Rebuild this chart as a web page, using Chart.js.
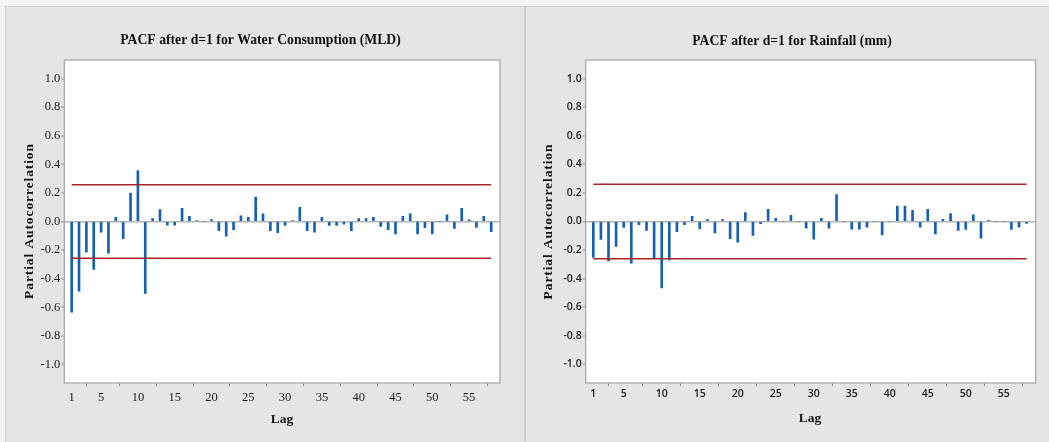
<!DOCTYPE html>
<html><head><meta charset="utf-8">
<script src="https://cdn.jsdelivr.net/npm/chart.js@4/dist/chart.umd.min.js"></script>
<style>
html,body{margin:0;padding:0;background:#f4f4f4;width:1049px;height:442px;overflow:hidden}
.panel{position:absolute;background:#e5e5e5;box-sizing:border-box;border:1px solid #cfcfcf}
canvas{position:absolute}
</style></head><body>
<div class="panel" style="left:5px;top:6px;width:520px;height:440px"></div>
<div class="panel" style="left:525px;top:6px;width:528px;height:440px"></div>
<canvas id="c1" width="518" height="435" style="left:6px;top:7px"></canvas>
<canvas id="c2" width="523" height="435" style="left:526px;top:7px"></canvas>
<script>
// ---- data ----
const lags = Array.from({length:58},(_,i)=>i+1);
const waterPACF = [
 -0.634,-0.487,-0.214,-0.336,-0.074,-0.221,0.030,-0.120,0.198,0.356,
 -0.503,0.021,0.083,-0.025,-0.025,0.092,0.037,0.006,0.000,0.014,
 -0.064,-0.103,-0.057,0.039,0.030,0.170,0.053,-0.064,-0.078,-0.028,
 0.007,0.099,-0.064,-0.074,0.030,-0.028,-0.028,-0.018,-0.064,0.021,
 0.021,0.030,-0.034,-0.057,-0.087,0.037,0.053,-0.087,-0.044,-0.087,
 0.000,0.046,-0.048,0.092,0.011,-0.041,0.037,-0.071
];
const rainPACF = [
 -0.251,-0.126,-0.276,-0.175,-0.041,-0.292,-0.023,-0.062,-0.260,-0.464,
 -0.269,-0.071,-0.023,0.037,-0.051,0.014,-0.080,0.014,-0.120,-0.145,
 0.062,-0.097,-0.016,0.085,0.023,0.000,0.044,0.000,-0.046,-0.124,
 0.023,-0.046,0.189,0.000,-0.053,-0.053,-0.039,0.000,-0.094,0.000,
 0.108,0.108,0.078,-0.039,0.085,-0.087,0.016,0.055,-0.062,-0.055,
 0.046,-0.117,0.009,0.000,0.000,-0.055,-0.039,-0.014
];
const waterLimit = 0.257;
const rainLimit = 0.26;
const xTickValues = [1,5,10,15,20,25,30,35,40,45,50,55];
const yTickValues = [-1.0,-0.8,-0.6,-0.4,-0.2,0.0,0.2,0.4,0.6,0.8,1.0];
const titles = ["PACF after d=1 for Water Consumption (MLD)","PACF after d=1 for Rainfall (mm)"];
const yTitle = "Partial Autocorrelation";
const xTitle = "Lag";

function makeChart(id, vals, lim, o){
  const textPlugin = {
    id:'txt',
    beforeDraw(chart){
      const ca = chart.chartArea, c = chart.ctx;
      c.save(); c.fillStyle='#fff'; c.fillRect(ca.left,ca.top,ca.right-ca.left,ca.bottom-ca.top); c.restore();
    },
    beforeDatasetsDraw(chart){
      const ca = chart.chartArea, c = chart.ctx;
      c.save(); c.strokeStyle='#a3a3a3'; c.lineWidth=1.2;
      c.strokeRect(ca.left,ca.top,ca.right-ca.left,ca.bottom-ca.top); c.restore();
    },
    afterDraw(chart){
      const c = chart.ctx;
      c.save();
      c.fillStyle='#111'; c.textAlign='center'; c.textBaseline='middle';
      c.font='bold 13.7px "Liberation Serif"';
      c.fillText(o.title, o.tx, o.ty);
      c.font='bold 13.5px "Liberation Serif"';
      c.fillText(xTitle, o.lx, o.ly);
      c.translate(o.yx, o.yy); c.rotate(-Math.PI/2);
      c.font='bold 13.5px "Liberation Serif"';
      try{ c.letterSpacing='0.9px'; }catch(e){}
      c.fillText(yTitle, 0, 0);
      c.restore();
    }
  };
  return new Chart(document.getElementById(id), {
    type:'bar',
    data:{datasets:[
      {type:'bar', data:lags.map((l,i)=>({x:l,y:vals[i]})), backgroundColor:'#1560b2', barThickness:2, order:2},
      {type:'line', data:[{x:1,y:lim},{x:58,y:lim}], borderColor:'#a82326', borderWidth:1.5, pointRadius:0, order:1},
      {type:'line', data:[{x:1,y:-lim},{x:58,y:-lim}], borderColor:'#a82326', borderWidth:1.5, pointRadius:0, order:1}
    ]},
    options:{
      responsive:false, animation:false, events:[],
      layout:{padding:{left:0, top:53, right:o.padRight, bottom:0}},
      plugins:{legend:{display:false}, tooltip:{enabled:false}},
      scales:{
        x:{type:'linear', min:0, max:59.2, offset:false,
          afterBuildTicks(s){ s.ticks = xTickValues.map(v=>({value:v})); },
          afterFit(s){ s.height = 59; },
          ticks:{autoSkip:false, maxRotation:0, font:o.tickFont, color:'#1a1a1a', padding:o.xPad,
            callback:(v)=>String(v)},
          grid:{drawOnChartArea:false, tickLength:3, tickColor:'#8a8a8a', tickWidth:1},
          border:{display:false}
        },
        y:{type:'linear', min:-1.13, max:1.13,
          afterBuildTicks(s){ s.ticks = yTickValues.map(v=>({value:v})); },
          afterFit(s){ s.width = o.yWidth; },
          ticks:{font:o.tickFont, color:'#1a1a1a', padding:1, callback:(v)=>v.toFixed(1)},
          grid:{tickLength:3, tickColor:'#8a8a8a', tickWidth:1,
            color:(ctx)=> (ctx.tick && Math.abs(ctx.tick.value)<1e-9) ? '#b3b3b3' : 'rgba(0,0,0,0)',
            lineWidth:(ctx)=> (ctx.tick && Math.abs(ctx.tick.value)<1e-9) ? 1.5 : 0},
          border:{display:false}
        }
      }
    },
    plugins:[textPlugin]
  });
}

makeChart('c1', waterPACF, waterLimit, {
  title:titles[0], tx:254.5, ty:33, lx:276, ly:413, yx:24, yy:214,
  padRight:24, yWidth:58.3, xPad:4.5,
  tickFont:{family:'"Liberation Serif"', size:12.5}
});
makeChart('c2', rainPACF, rainLimit, {
  title:titles[1], tx:266, ty:34, lx:284, ly:412, yx:23, yy:214.5,
  padRight:13.3, yWidth:59.7, xPad:1.5,
  tickFont:{family:'"Open Sans"', size:10.5, weight:'600'}
});
</script>
</body></html>
